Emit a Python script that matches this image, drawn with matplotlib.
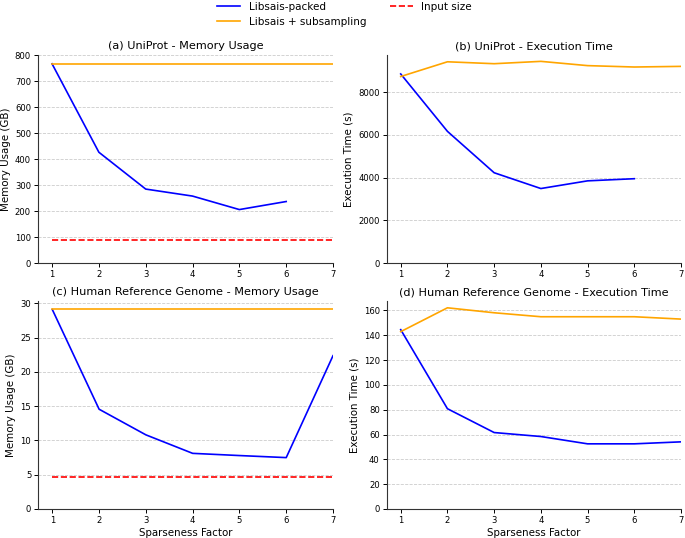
import matplotlib
matplotlib.use("Agg")
import matplotlib.pyplot as plt

factors = [1, 2, 3, 4, 5, 6, 7]

uni_mem_packed = [768, 427, 285, 258, 206, 237]
uni_mem_sub = [768, 768, 768, 768, 768, 768, 768]
uni_input = 90

uni_time_packed = [8860, 6170, 4230, 3490, 3850, 3950]
uni_time_sub = [8740, 9430, 9340, 9450, 9250, 9185, 9215]

hrg_mem_packed = [29.1, 14.56, 10.82, 8.12, 7.8, 7.5, 22.37]
hrg_mem_sub = [29.13, 29.13, 29.13, 29.13, 29.13, 29.13, 29.13]
hrg_input = 4.66

hrg_time_packed = [144.5, 80.8, 61.6, 58.4, 52.5, 52.5, 54.1]
hrg_time_sub = [142.9, 162.1, 158.1, 154.9, 154.9, 154.9, 153.0]

titles = ["(a) UniProt - Memory Usage", "(b) UniProt - Execution Time",
          "(c) Human Reference Genome - Memory Usage",
          "(d) Human Reference Genome - Execution Time"]
ylabels = ["Memory Usage (GB)", "Execution Time (s)",
           "Memory Usage (GB)", "Execution Time (s)"]

fig = plt.figure(figsize=(6.85, 5.38), dpi=100)
W, H = 685, 538
def rect(l, t, r, b):
    return [l / W, 1 - b / H, (r - l) / W, (b - t) / H]

axes = [fig.add_axes(rect(38, 55, 333, 263)),
        fig.add_axes(rect(386.7, 55, 681, 263)),
        fig.add_axes(rect(38.3, 301, 333, 509)),
        fig.add_axes(rect(386.7, 301, 681, 509))]

panels = [
    (uni_mem_packed, uni_mem_sub, uni_input),
    (uni_time_packed, uni_time_sub, None),
    (hrg_mem_packed, hrg_mem_sub, hrg_input),
    (hrg_time_packed, hrg_time_sub, None),
]

handles = {}
for i, (ax, (packed, sub, inp)) in enumerate(zip(axes, panels)):
    h1, = ax.plot(factors[:len(packed)], packed, color="blue", lw=1.2, label="Libsais-packed")
    h2, = ax.plot(factors[:len(sub)], sub, color="orange", lw=1.2, label="Libsais + subsampling")
    handles["p"] = h1
    handles["s"] = h2
    if inp is not None:
        h3 = ax.axhline(inp, xmin=0.3 / 6.3, xmax=1, color="red", ls="--", lw=1.2, label="Input size")
        handles["i"] = h3
    ax.set_xlim(0.7, 7)
    ax.set_ylim(bottom=0)
    ax.set_xticks(factors)
    ax.set_title(titles[i], fontsize=8.1, pad=4)
    ax.set_ylabel(ylabels[i], fontsize=7.4, labelpad=3)
    if i >= 2:
        ax.set_xlabel("Sparseness Factor", fontsize=7.4, labelpad=2)
    ax.tick_params(labelsize=6.1, length=3, width=0.7, pad=2)
    ax.grid(axis="y", ls="--", color="#cccccc", lw=0.6)
    ax.set_axisbelow(True)
    for s in ["top", "right"]:
        ax.spines[s].set_visible(False)
    for s in ["left", "bottom"]:
        ax.spines[s].set_linewidth(0.8)
        ax.spines[s].set_color("#333333")

fig.legend([handles["p"], handles["s"], handles["i"]],
           ["Libsais-packed", "Libsais + subsampling", "Input size"],
           loc="upper center", bbox_to_anchor=(0.503, 1.014), ncol=2,
           frameon=False, fontsize=7.5, columnspacing=2.3, handlelength=2.2,
           labelspacing=0.45)

fig.savefig("out.png", dpi=100)
